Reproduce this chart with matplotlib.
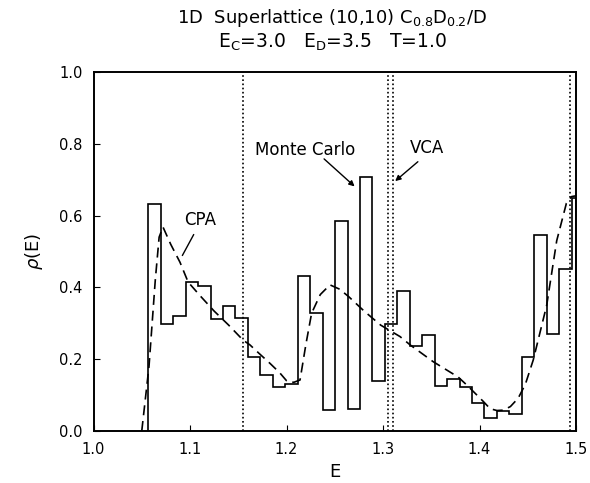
import matplotlib
matplotlib.use("Agg")
import matplotlib.pyplot as plt

# ---- data ----
hist_edges = [1.0568, 1.0697, 1.0826, 1.0955, 1.1084, 1.1213, 1.1342, 1.1471,
              1.1600, 1.1729, 1.1858, 1.1987, 1.2116, 1.2245, 1.2374, 1.2503,
              1.2632, 1.2761, 1.2890, 1.3019, 1.3148, 1.3277, 1.3406, 1.3535,
              1.3664, 1.3793, 1.3922, 1.4051, 1.4180, 1.4309, 1.4438, 1.4567,
              1.4696, 1.4825, 1.4954, 1.5000]
mc_rho = [0.632, 0.297, 0.320, 0.416, 0.405, 0.312, 0.348, 0.314, 0.205, 0.155,
          0.123, 0.131, 0.432, 0.328, 0.058, 0.585, 0.062, 0.707, 0.140, 0.298,
          0.390, 0.237, 0.268, 0.124, 0.145, 0.122, 0.077, 0.035, 0.057, 0.047,
          0.205, 0.546, 0.270, 0.450, 0.648]

cpa_E = [1.050, 1.0575, 1.064, 1.068, 1.072, 1.080, 1.0896, 1.098, 1.110, 1.125,
         1.140, 1.155, 1.162, 1.172, 1.183, 1.193, 1.200, 1.2036, 1.208, 1.214,
         1.220, 1.226, 1.235, 1.245, 1.255, 1.2645, 1.280, 1.2975, 1.3176, 1.328,
         1.352, 1.378, 1.388, 1.404, 1.411, 1.418, 1.4247, 1.432, 1.440, 1.4475,
         1.4557, 1.4696, 1.480, 1.490, 1.4955, 1.500]
cpa_rho = [0.0, 0.18, 0.42, 0.54, 0.568, 0.52, 0.47, 0.415, 0.378, 0.334,
           0.295, 0.253, 0.240, 0.215, 0.188, 0.162, 0.140, 0.135, 0.136, 0.142,
           0.240, 0.328, 0.380, 0.407, 0.395, 0.374, 0.335, 0.295, 0.263, 0.240,
           0.193, 0.150, 0.125, 0.082, 0.062, 0.057, 0.058, 0.068, 0.091, 0.130,
           0.198, 0.350, 0.530, 0.634, 0.653, 0.655]

vca_E = [1.1545, 1.3055, 1.3105, 1.4938]

x_ticks = [1.0, 1.1, 1.2, 1.3, 1.4, 1.5]
y_ticks = [0.0, 0.2, 0.4, 0.6, 0.8, 1.0]

plt.rcParams['font.family'] = ['DejaVu Sans']

fig = plt.figure(figsize=(5.9, 4.83), dpi=100)
ax = fig.add_axes([0.1585, 0.1077, 0.8178, 0.7433])

ax.stairs(mc_rho, hist_edges, baseline=0, fill=False, color='black', lw=1.2)
ax.plot(cpa_E, cpa_rho, color='black', lw=1.2, linestyle=(0, (6, 3.5)))
for e in vca_E:
    ax.axvline(e, color='black', lw=1.2, linestyle=(0, (1, 1.5)))

ax.set_xlim(1.0, 1.5)
ax.set_ylim(0.0, 1.0)
ax.set_xticks(x_ticks)
ax.set_yticks(y_ticks)
ax.set_xticklabels([f"{t:.1f}" for t in x_ticks])
ax.set_yticklabels([f"{t:.1f}" for t in y_ticks])
ax.tick_params(direction='in', length=4, width=0.8, labelsize=10.5, pad=8)
for s in ax.spines.values():
    s.set_linewidth(1.4)

ax.set_xlabel("E", fontsize=13, labelpad=4)
ax.set_ylabel(r"$\rho$(E)", fontsize=13, labelpad=10)

fig.text(0.563, 0.963, r"1D  Superlattice (10,10) C$_{0.8}$D$_{0.2}$/D",
         ha='center', va='center', fontsize=13)
fig.text(0.563, 0.913, r"E$_{\rm C}$=3.0   E$_{\rm D}$=3.5   T=1.0",
         ha='center', va='center', fontsize=13.5)

ax.text(1.1104, 0.588, "CPA", ha='center', va='center', fontsize=12)
ax.annotate("", xy=(1.0907, 0.482), xytext=(1.1052, 0.554),
            arrowprops=dict(arrowstyle='-', color='black', lw=1.0))

ax.text(1.2195, 0.783, "Monte Carlo", ha='center', va='center', fontsize=12)
ax.annotate("", xy=(1.2727, 0.676), xytext=(1.2368, 0.763),
            arrowprops=dict(arrowstyle='-|>', color='black', lw=1.0,
                            mutation_scale=8))

ax.text(1.346, 0.788, "VCA", ha='center', va='center', fontsize=12)
ax.annotate("", xy=(1.3104, 0.691), xytext=(1.3383, 0.755),
            arrowprops=dict(arrowstyle='-|>', color='black', lw=1.0,
                            mutation_scale=8))

fig.savefig("out.png", dpi=100)
